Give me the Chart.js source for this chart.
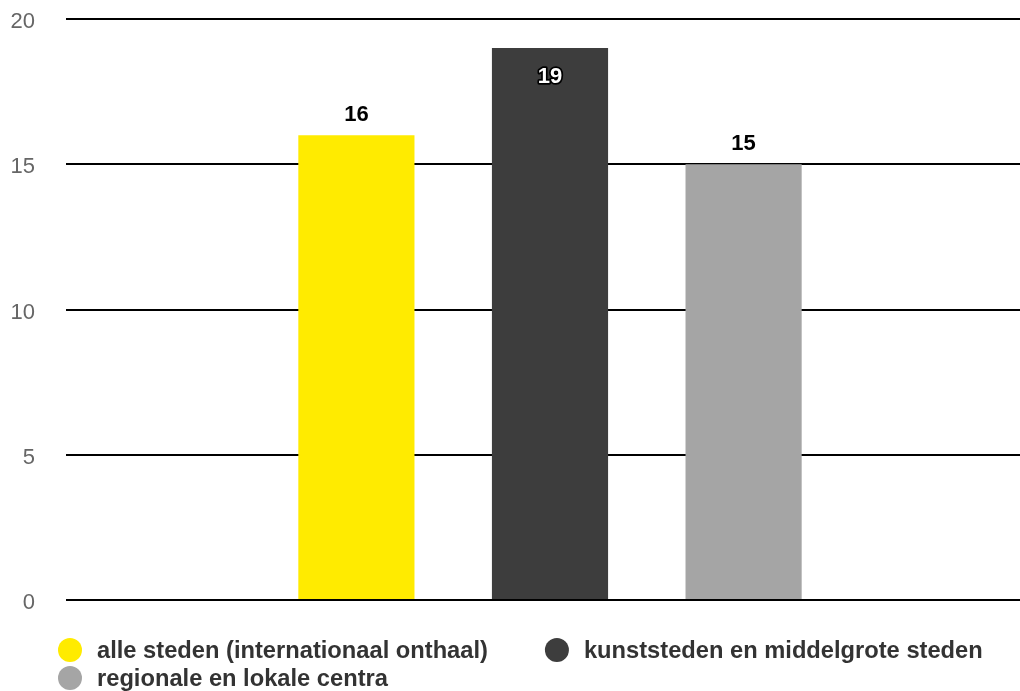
<!DOCTYPE html>
<html>
<head>
<meta charset="utf-8">
<script src="https://cdn.jsdelivr.net/npm/chart.js@4.4.1/dist/chart.umd.min.js"></script>
<style>
  html, body { margin: 0; padding: 0; overflow: hidden; background: #fff; width: 1020px; height: 691px; }
  #wrap { position: relative; width: 1034px; height: 691px; }
</style>
</head>
<body>
<div id="wrap"><canvas id="c" width="1034" height="691"></canvas></div>
<script>
const categories = [''];
const seriesNames = ['alle steden (internationaal onthaal)', 'kunststeden en middelgrote steden', 'regionale en lokale centra'];
const seriesValues = [[16], [19], [15]];
const seriesColors = ['#FFEB00', '#3D3D3D', '#A5A5A5'];
const yTicks = [0, 5, 10, 15, 20];

const FONT = "'Liberation Sans', Arial, sans-serif";

const valueLabels = {
  id: 'valueLabels',
  afterDatasetsDraw(chart) {
    const ctx = chart.ctx;
    ctx.save();
    ctx.font = 'bold 22px ' + FONT;
    ctx.textAlign = 'center';
    ctx.textBaseline = 'middle';
    chart.data.datasets.forEach((ds, i) => {
      const meta = chart.getDatasetMeta(i);
      meta.data.forEach((bar, j) => {
        const v = ds.data[j];
        const txt = String(Math.round(v));
        let y = bar.y - 20;
        if (y - 12 < chart.chartArea.top + 20) {
          y = bar.y + 29;
          ctx.lineJoin = 'round';
          ctx.lineWidth = 3.5;
          ctx.strokeStyle = '#000';
          ctx.strokeText(txt, bar.x, y);
          ctx.fillStyle = '#fff';
          ctx.fillText(txt, bar.x, y);
        } else {
          ctx.fillStyle = '#000';
          ctx.fillText(txt, bar.x, y);
        }
      });
    });
    ctx.restore();
  }
};

const bottomLegend = {
  id: 'bottomLegend',
  afterDraw(chart) {
    const ctx = chart.ctx;
    ctx.save();
    ctx.font = 'bold 23.7px ' + FONT;
    ctx.textBaseline = 'middle';
    ctx.textAlign = 'left';
    const startX = 58, r = 12, textGap = 15, itemGap = 57, rowH = 28, maxX = 1010;
    let x = startX, y = 650;
    chart.data.datasets.forEach((ds, i) => {
      const w = ctx.measureText(ds.label).width;
      const itemW = 2 * r + textGap + w;
      if (i > 0 && x + itemW > maxX) { x = startX; y += rowH; }
      ctx.fillStyle = ds.backgroundColor;
      ctx.beginPath();
      ctx.arc(x + r, y, r, 0, Math.PI * 2);
      ctx.fill();
      ctx.fillStyle = '#333333';
      ctx.fillText(ds.label, x + 2 * r + textGap, y + 1);
      x += itemW + itemGap;
    });
    ctx.restore();
  }
};

new Chart(document.getElementById('c'), {
  type: 'bar',
  data: {
    labels: categories,
    datasets: seriesNames.map((name, i) => ({
      label: name,
      data: seriesValues[i],
      backgroundColor: seriesColors[i],
      borderWidth: 0,
      categoryPercentage: 0.6,
      barPercentage: 0.6
    }))
  },
  options: {
    responsive: false,
    animation: false,
    layout: { padding: { left: 10, right: 0, top: 19, bottom: 91 } },
    plugins: {
      legend: { display: false },
      tooltip: { enabled: false }
    },
    scales: {
      x: { display: false },
      y: {
        min: 0,
        max: 20,
        afterFit(scale) { scale.width = 56; scale.paddingTop = 0; scale.paddingBottom = 0; },
        afterBuildTicks(scale) { scale.ticks = yTicks.map(v => ({ value: v })); },
        border: { display: false },
        grid: { color: '#000000', lineWidth: 2, drawTicks: false },
        ticks: {
          padding: 31,
          labelOffset: 3,
          color: '#666666',
          font: { family: FONT, size: 22 }
        }
      }
    }
  },
  plugins: [valueLabels, bottomLegend]
});
</script>
</body>
</html>
